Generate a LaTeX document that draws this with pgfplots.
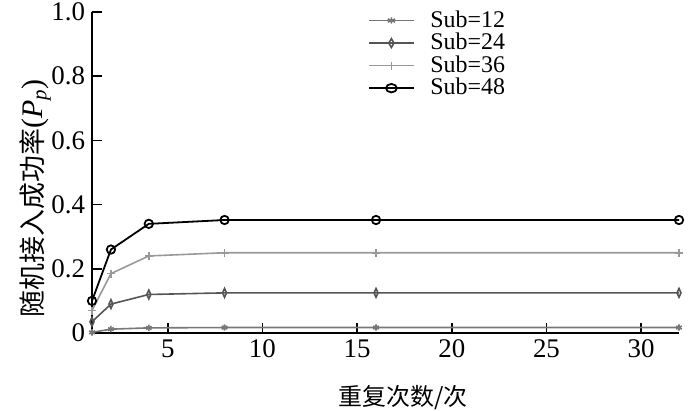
\documentclass[border=0pt]{standalone}
\usepackage{pgfplots}
\pgfplotsset{compat=1.18}
\usepackage{fontspec}
\setmainfont{Liberation Serif}
\newfontfamily\cjk{Noto Sans CJK SC}
\definecolor{ca}{HTML}{777777}
\definecolor{cb}{HTML}{555555}
\definecolor{cc}{HTML}{999999}
\begin{document}
\begin{tikzpicture}
\begin{axis}[
    scale only axis,
    width=293.5bp, height=160.5bp,
    xmin=1, xmax=32, ymin=0, ymax=1,
    axis x line*=bottom, axis y line*=left,
    axis line style={line width=1bp, -},
    xtick={5,10,15,20,25,30},
    ytick={0,0.2,0.4,0.6,0.8,1.0},
    yticklabels={0,0.2,0.4,0.6,0.8,1.0},
    tick style={black, line width=0.8bp},
    major tick length=5bp,
    tick align=inside,
    ticklabel style={font=\fontsize{13.5}{15}\selectfont},
    /pgf/number format/assume math mode=true,
    xlabel={\cjk 重复次数/次},
    ylabel={\cjk 随机接入成功率\rmfamily\fontsize{15}{16}\selectfont(\textit{P}\textsubscript{\textit{p}})},
    xlabel style={font=\fontsize{12}{14}\selectfont, at={(axis description cs:0.53,-0.2)}, anchor=center},
    ylabel style={font=\fontsize{13.5}{15}\selectfont, at={(axis description cs:-0.097,0.42)}, anchor=center},
    legend style={at={(0.46,1.03)}, anchor=north west, draw=none, fill=none,
        font=\fontsize{12}{12}\selectfont, row sep=-2.5bp,
        /tikz/every odd column/.append style={column sep=6bp}},
    legend image post style={xscale=1.3},
    legend cell align=left,
    clip=false,
]
\addplot[ca, line width=0.8bp, mark=asterisk, mark size=1.6bp] coordinates {
    (1,0.002) (2,0.012) (4,0.016) (8,0.017) (16,0.017) (32,0.017)};
\addlegendentry{Sub=12}
\addplot[cb, line width=0.8bp, mark=diamond, mark size=2.2bp, mark options={xscale=0.6, solid}] coordinates {
    (1,0.035) (2,0.09) (4,0.12) (8,0.125) (16,0.125) (32,0.125)};
\addlegendentry{Sub=24}
\addplot[cc, line width=0.8bp, mark=+, mark size=2bp] coordinates {
    (1,0.07) (2,0.185) (4,0.24) (8,0.25) (16,0.25) (32,0.25)};
\addlegendentry{Sub=36}
\addplot[black, line width=0.9bp, mark=o, mark size=2.1bp, mark options={line width=0.9bp}] coordinates {
    (1,0.10) (2,0.26) (4,0.34) (8,0.352) (16,0.352) (32,0.352)};
\addlegendentry{Sub=48}
\end{axis}
\pgfresetboundingbox
\path[use as bounding box] (-46bp,-39bp) rectangle (304bp,166.5bp);
\end{tikzpicture}
\end{document}
